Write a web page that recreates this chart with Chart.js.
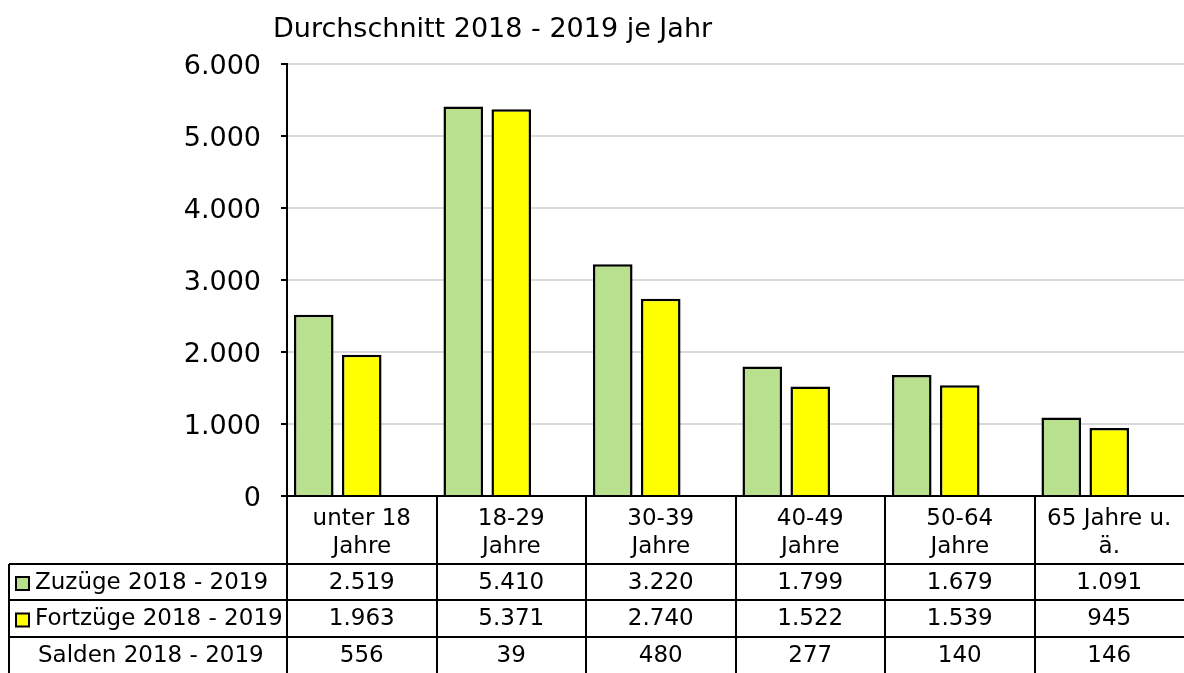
<!DOCTYPE html>
<html>
<head>
<meta charset="utf-8">
<script src="https://cdn.jsdelivr.net/npm/chart.js@4/dist/chart.umd.min.js"></script>
<style>
  html, body { margin: 0; padding: 0; background: #fff; }
  #wrap { width: 1184px; height: 673px; position: relative; }
</style>
</head>
<body>
<div id="wrap"><canvas id="mychart"></canvas></div>
<script>
// -------- data --------
const categories = [
  ['unter 18', 'Jahre'],
  ['18-29', 'Jahre'],
  ['30-39', 'Jahre'],
  ['40-49', 'Jahre'],
  ['50-64', 'Jahre'],
  ['65 Jahre u.', 'ä.']
];
const zuzuege = [2519, 5410, 3220, 1799, 1679, 1091];
const fortzuege = [1963, 5371, 2740, 1522, 1539, 945];
const salden = [556, 39, 480, 277, 140, 146];
const seriesNames = ['Zuzüge 2018 - 2019', 'Fortzüge 2018 - 2019', 'Salden 2018 - 2019'];
const chartTitle = 'Durchschnitt 2018 - 2019 je Jahr';
const yMax = 6000;
const yStep = 1000;

const FONT = "'DejaVu Sans', Verdana, sans-serif";

// german thousands separator
function fmt(n) {
  return String(n).replace(/\B(?=(\d{3})+(?!\d))/g, '.');
}

// -------- title + data table under the plot --------
const tablePlugin = {
  id: 'dataTable',
  afterDraw(chart) {
    const ctx = chart.ctx;
    const area = chart.chartArea;
    const xs = chart.scales.x;
    const n = categories.length;
    const colW = (area.right - area.left) / n;
    const top = area.bottom;
    const rows = [564, 600, 637, 673];   // row borders below the header
    const leftEdge = 9;

    ctx.save();

    // title
    ctx.fillStyle = '#000';
    ctx.font = '27px ' + FONT;
    ctx.textAlign = 'left';
    ctx.textBaseline = 'middle';
    ctx.fillText(chartTitle, 273, 30);

    // grid lines of the table
    ctx.strokeStyle = '#000';
    ctx.lineWidth = 2;
    ctx.beginPath();
    for (let i = 0; i < n; i++) {
      const x = Math.round(xs.getPixelForValue(i) - colW / 2);
      ctx.moveTo(x, top);
      ctx.lineTo(x, 673);
    }
    for (let r = 0; r < 3; r++) {
      ctx.moveTo(leftEdge, rows[r]);
      ctx.lineTo(area.right, rows[r]);
    }
    ctx.moveTo(leftEdge, rows[0]);
    ctx.lineTo(leftEdge, 673);
    ctx.stroke();

    // header labels
    ctx.font = '23px ' + FONT;
    ctx.textAlign = 'center';
    categories.forEach((lines, i) => {
      const cx = xs.getPixelForValue(i);
      ctx.fillText(lines[0], cx, 519);
      ctx.fillText(lines[1], cx, 547);
    });

    // value rows
    const rowData = [zuzuege, fortzuege, salden];
    rowData.forEach((vals, r) => {
      const cy = (rows[r] + rows[r + 1]) / 2 + 1;
      vals.forEach((v, i) => {
        ctx.textAlign = 'center';
        ctx.fillText(fmt(v), xs.getPixelForValue(i), cy);
      });
      // row label with legend key
      const ds = chart.data.datasets[r];
      if (r < 2) {
        ctx.fillStyle = ds.backgroundColor;
        ctx.fillRect(16, cy - 6, 13, 13);
        ctx.lineWidth = 2;
        ctx.strokeRect(16, cy - 6, 13, 13);
        ctx.fillStyle = '#000';
      }
      ctx.textAlign = 'left';
      ctx.fillText(seriesNames[r], r < 2 ? 35 : 38, cy);
    });

    ctx.restore();
  }
};

const data = {
  labels: categories.map(c => c.join(' ')),
  datasets: [
    {
      label: seriesNames[0],
      data: zuzuege,
      backgroundColor: '#B9E08D',
      borderColor: '#000',
      borderWidth: 2.5
    },
    {
      label: seriesNames[1],
      data: fortzuege,
      backgroundColor: '#FFFF00',
      borderColor: '#000',
      borderWidth: 2.5
    },
    {
      // Salden only shows in the table, bar has no fill
      label: seriesNames[2],
      data: salden,
      backgroundColor: 'rgba(0,0,0,0)',
      borderWidth: 0
    }
  ]
};

const config = {
  type: 'bar',
  data: data,
  options: {
    responsive: true,
    maintainAspectRatio: false,
    animation: false,
    layout: { padding: { top: 64, left: 0, right: 0, bottom: 0 } },
    datasets: {
      bar: { categoryPercentage: 0.963, barPercentage: 0.825 }
    },
    plugins: {
      legend: { display: false },
      title: { display: false },
      tooltip: { enabled: false }
    },
    scales: {
      x: {
        grid: { display: false, drawTicks: false },
        border: { display: true, color: '#000', width: 2 },
        ticks: { display: false },
        afterFit: s => { s.height = 177; }
      },
      y: {
        min: 0,
        max: yMax,
        ticks: {
          stepSize: yStep,
          color: '#000',
          padding: 20,
          labelOffset: 3,
          font: { family: FONT, size: 27 },
          callback: v => fmt(v)
        },
        grid: {
          color: '#d9d9d9',
          lineWidth: 2,
          tickColor: '#000',
          tickLength: 6
        },
        border: { display: true, color: '#000', width: 2 },
        afterFit: s => { s.width = 287; }
      }
    }
  },
  plugins: [tablePlugin]
};

//build chart
const mychart = document.getElementById('mychart');
const chart = new Chart(mychart, config);
</script>
</body>
</html>
